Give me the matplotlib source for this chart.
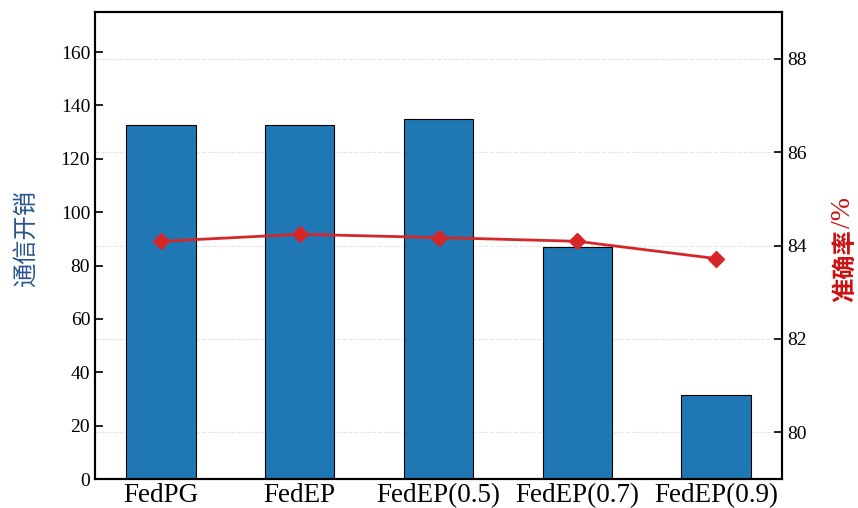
import matplotlib
matplotlib.use("Agg")
import matplotlib.pyplot as plt
import matplotlib.transforms as mtransforms
import numpy as np

methods = ["FedPG", "FedEP", "FedEP(0.5)", "FedEP(0.7)", "FedEP(0.9)"]
comm_cost = [132.6, 132.6, 134.8, 87.1, 31.6]
accuracy = [84.09, 84.24, 84.17, 84.09, 83.72]
acc_ticks = [80, 82, 84, 86, 88]

plt.rcParams['font.family'] = ['Liberation Serif', 'Noto Sans CJK SC']
plt.rcParams['axes.linewidth'] = 1.5

fig = plt.figure(figsize=(8.58, 5.08), dpi=100)
ax1 = fig.add_axes([95 / 858, 1 - 479 / 508, 687 / 858, 467 / 508])
ax2 = ax1.twinx()
ax2.set_ylim(79, 89)

# grid lines follow the accuracy axis but sit behind the bars
grid_tr = mtransforms.blended_transform_factory(ax1.transAxes, ax2.transData)
for v in acc_ticks:
    ax1.plot([0, 1], [v, v], transform=grid_tr, linestyle='--', color='#e6e6e6',
             linewidth=0.8, zorder=0)

x = np.arange(len(methods))
ax1.bar(x, comm_cost, width=0.5, color='#1f77b4', edgecolor='black', linewidth=0.8, zorder=2)
ax1.set_ylim(0, 175)
ax1.set_xlim(-0.475, 4.475)
ax1.set_yticks(np.arange(0, 161, 20))
ax1.set_xticks(x)
ax1.set_xticklabels(methods, fontsize=19.5)
ax1.tick_params(axis='y', direction='in', length=6, width=1.2, labelsize=14)
ax1.tick_params(axis='x', length=0, pad=3)
ax1.set_ylabel("通信开销", fontsize=17.5, color='#2a5591', family=['Noto Sans CJK SC'])
ax1.yaxis.set_label_coords(-0.082, 0.514)

ax2.plot(x, accuracy, color='#d62728', marker='D', markersize=8, linewidth=2, zorder=3)
ax2.set_yticks(acc_ticks)
ax2.tick_params(axis='y', direction='in', length=6, width=1.2, labelsize=14)
ax2.set_ylabel("准确率", fontsize=17.5, color='#cc1111', rotation=90,
               family=['Noto Sans CJK SC'], fontweight='bold')
ax2.yaxis.set_label_coords(1.074, 0.456)

ax1.set_zorder(1)
ax2.set_zorder(2)
ax2.patch.set_visible(False)

# unit suffix in the serif face, placed right after the bold label
fig.canvas.draw()
bb = ax2.yaxis.label.get_window_extent().transformed(fig.transFigure.inverted())
fig.text((bb.x0 + bb.x1) / 2 - 0.001, bb.y1 + 0.004, "/%", rotation=90, ha='center', va='bottom',
         fontsize=20, color='#cc1111', family=['Liberation Serif'])

fig.savefig("out.png", dpi=100)
